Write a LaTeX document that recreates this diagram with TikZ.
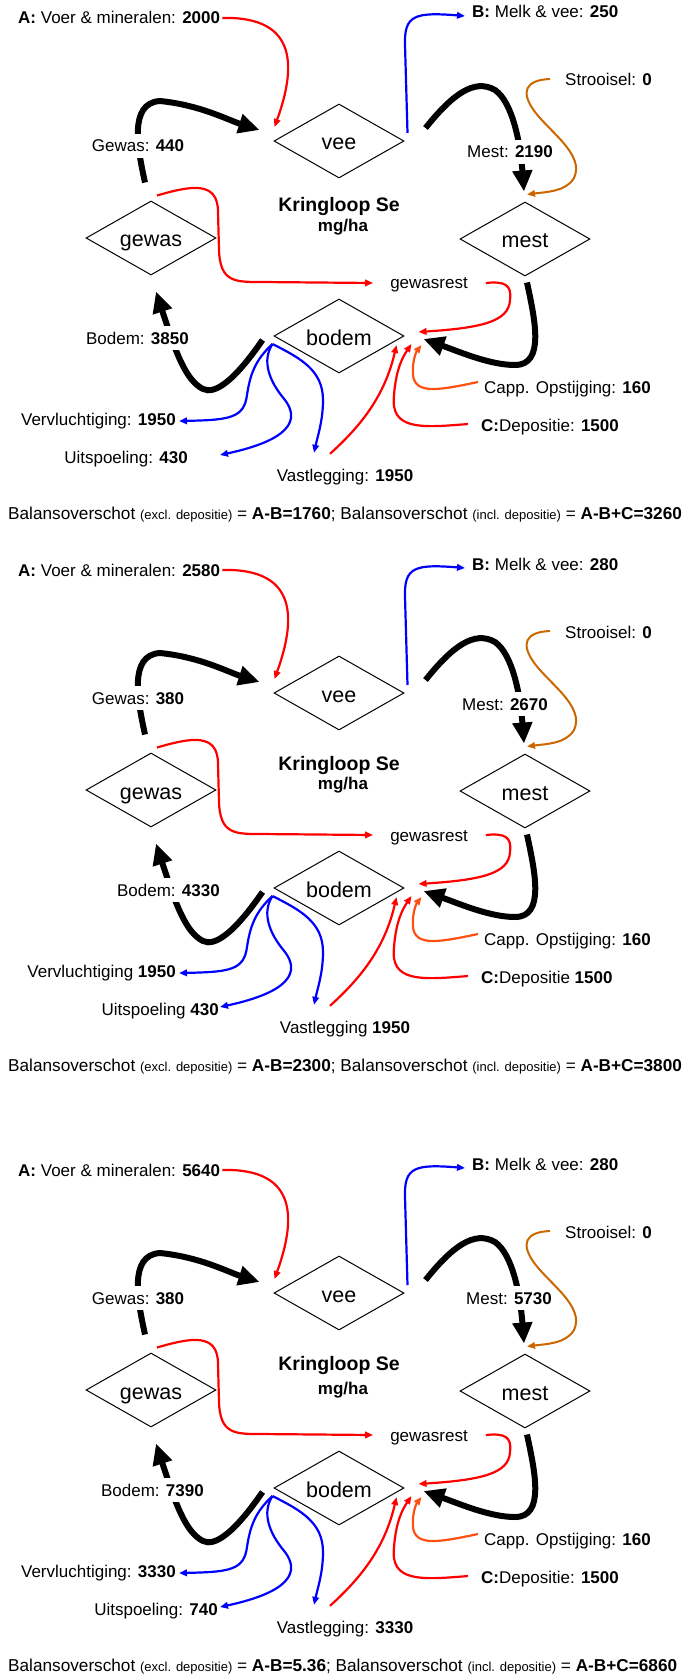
\documentclass[tikz,border=0pt]{standalone}
\usepackage{fontspec}
\setmainfont{Liberation Sans}
\usetikzlibrary{arrows.meta,shapes.geometric}

\definecolor{flowred}{RGB}{255,0,0}
\definecolor{flowblue}{RGB}{0,0,255}
\definecolor{litterorange}{RGB}{204,102,0}
\definecolor{capred}{RGB}{255,80,20}

\tikzset{
  pool/.style={draw, line width=1pt, shape=diamond, aspect=1.76,
    minimum width=130pt, minimum height=74pt, inner sep=0pt,
    font=\fontsize{21.5}{24}\selectfont, text height=18pt, text depth=0pt},
  lbl/.style={inner xsep=1pt, inner ysep=1pt, font=\fontsize{17}{20}\selectfont,
    text height=12pt, text depth=0pt},
  lblw/.style={lbl, fill=white, inner xsep=2pt, inner ysep=6pt},
  baltext/.style={lbl, font=\fontsize{17.2}{20}\selectfont},
  titletext/.style={inner sep=0pt, font=\bfseries\fontsize{19.5}{22}\selectfont},
  unittext/.style={inner sep=0pt, font=\bfseries\fontsize{17}{20}\selectfont},
  mainflow/.style={line width=6pt, -{Triangle[length=21pt,width=19pt]}},
  sideflow/.style={line width=2.2pt, -{Triangle[length=8pt,width=6.5pt]}},
}

% One selenium cycle: #1 = vertical offset, #2 = node-name prefix
\newcommand\drawcyclepanel[2]{%
\begin{scope}[shift={(0,#1)}]
  % pools
  \node[pool] (#2vee)   at (339,141) {vee};
  \node[pool] (#2gewas) at (151,238) {gewas};
  \node[pool] (#2mest)  at (525,239) {mest};
  \node[pool] (#2bodem) at (339,336) {bodem};
  % plain labels
  \node[lbl, anchor=west] (#2feed)   at (17,18)  {\txtA};
  \node[lbl, anchor=west] (#2milk)   at (471,12) {\txtB};
  \node[lbl, anchor=west] (#2litter) at (564,80) {Strooisel: \textbf{0}};
  \node[lbl] (#2rest) at (429,283) {gewasrest};
  \node[lbl, anchor=east] (#2volat) at (177,419) {\txtVerv};
  \node[lbl, anchor=east] (#2leach) at (\xUits,457) {\txtUits};
  \node[lbl] (#2fix) at (345,475) {\txtVast};
  \node[lbl, anchor=west] (#2capil) at (483,387) {Capp. Opstijging: \textbf{160}};
  \node[lbl, anchor=west] (#2depo)  at (480,425) {\txtDep};
  \node[titletext] (#2title) at (339,\yTitle) {Kringloop Se};
  \node[unittext]  (#2unit)  at (343,\yUnit)  {mg/ha};
  \node[baltext, anchor=west] (#2balance) at (7,513) {\txtBal};
  \coordinate (#2leachTip) at (220,455);
  % main black flows
  \draw[mainflow] ([shift={(-6,-18)}]#2gewas.north) .. controls (138,150) and (128,103) .. (160,101)
        .. controls (200,105) and (228,120) .. ([shift={(-14,-11)}]#2vee.west);
  \draw[mainflow] ([shift={(21,-13)}]#2vee.east) .. controls (452,95) and (474,78) .. (495,90)
        .. controls (512,102) and (520,140) .. ([shift={(-1,-10)}]#2mest.north);
  \draw[mainflow] ([shift={(2,6)}]#2mest.south) .. controls (535,320) and (545,365) .. (515,365)
        .. controls (490,365) and (460,352) .. ([shift={(19,3)}]#2bodem.east);
  \draw[mainflow] ([shift={(-11,4)}]#2bodem.west) .. controls (235,380) and (215,395) .. (203,389)
        .. controls (185,380) and (175,350) .. ([shift={(5,16)}]#2gewas.south);
  % inputs and outputs
  \draw[sideflow, flowred] ([xshift=1pt]#2feed.east) .. controls (300,16) and (295,70) .. ([shift={(1,-14)}]#2vee.west);
  \draw[sideflow, flowblue] ([shift={(3,-8)}]#2vee.east) -- (405,45) .. controls (404,15) and (415,12) .. ([shift={(-6,4)}]#2milk.west);
  \draw[sideflow, litterorange, line width=2pt] ([shift={(-14,-1)}]#2litter.west) .. controls (525,80) and (520,92) .. (535,112)
        .. controls (550,132) and (585,155) .. (574,178) .. controls (566,192) and (545,192) .. ([shift={(2,-7)}]#2mest.north);
  \draw[sideflow, flowred] ([shift={(6,-5)}]#2gewas.north) .. controls (190,186) and (218,180) .. (218,212) -- (219,250)
        .. controls (220,282) and (235,282) .. (260,282) -- ([xshift=-16pt]#2rest.west);
  \draw[sideflow, flowred] ([xshift=17pt]#2rest.east) .. controls (505,281) and (512,285) .. (510,300)
        .. controls (509,322) and (480,328) .. ([shift={(14,-4)}]#2bodem.east);
  \draw[sideflow, flowblue] ([shift={(-1,8)}]#2bodem.west) .. controls (255,360) and (250,375) .. (247,395)
        .. controls (244,418) and (230,420) .. ([shift={(2,2)}]#2volat.east);
  \draw[sideflow, flowblue] ([shift={(-1,8)}]#2bodem.west) .. controls (262,360) and (268,380) .. (285,400)
        .. controls (300,420) and (290,440) .. (#2leachTip);
  \draw[sideflow, flowblue] ([shift={(-1,8)}]#2bodem.west) .. controls (300,358) and (323,370) .. (323,400)
        .. controls (323,420) and (318,435) .. ([shift={(-31,-15)}]#2fix.north);
  \draw[sideflow, flowred] ([shift={(-15,-14)}]#2fix.north) .. controls (362,425) and (385,395) .. ([shift={(-8,9)}]#2bodem.east);
  \draw[sideflow, flowred] ([shift={(-12,-1)}]#2depo.west) .. controls (420,428) and (390,430) .. (394,395)
        .. controls (396,370) and (402,358) .. ([shift={(7,8)}]#2bodem.east);
  \draw[sideflow, capred] ([shift={(-5,-5)}]#2capil.west) .. controls (440,390) and (415,395) .. (413,375)
        .. controls (412,362) and (416,352) .. ([shift={(17,9)}]#2bodem.east);
  % flow labels on white, over the black flows
  \node[lblw] (#2cropflow) at (138,146) {\txtGewas};
  \node[lblw] (#2manureflow) at (\xMest,\yMest) {\txtMest};
  \node[lblw, anchor=east] (#2soilflow) at (\xBodem,338) {\txtBodem};
\end{scope}}

\newcommand\smallnote[1]{{\fontsize{13}{15}\selectfont #1}}

\begin{document}
\begin{tikzpicture}[x=1pt, y=-1pt]
  \fill[white] (0,0) rectangle (683,1677);
  \useasboundingbox (0,0) rectangle (683,1677);

  % first cycle
  \def\txtA{\textbf{A:} Voer \& mineralen: \textbf{2000}}
  \def\txtB{\textbf{B:} Melk \& vee: \textbf{250}}
  \def\txtGewas{Gewas: \textbf{440}}
  \def\txtMest{Mest: \textbf{2190}}
  \def\txtBodem{Bodem: \textbf{3850}}
  \def\txtVerv{Vervluchtiging: \textbf{1950}}
  \def\txtUits{Uitspoeling: \textbf{430}}
  \def\txtVast{Vastlegging: \textbf{1950}}
  \def\txtDep{\textbf{C:}Depositie: \textbf{1500}}
  \def\txtBal{Balansoverschot \smallnote{(excl. depositie)} = \textbf{A-B=1760}; Balansoverschot \smallnote{(incl. depositie)} = \textbf{A-B+C=3260}}
  \def\xMest{510}\def\yMest{152}\def\yTitle{207}\def\yUnit{227}\def\xBodem{191}\def\xUits{189}
  \drawcyclepanel{0}{a}

  % second cycle
  \def\txtA{\textbf{A:} Voer \& mineralen: \textbf{2580}}
  \def\txtB{\textbf{B:} Melk \& vee: \textbf{280}}
  \def\txtGewas{Gewas: \textbf{380}}
  \def\txtMest{Mest: \textbf{2670}}
  \def\txtBodem{Bodem: \textbf{4330}}
  \def\txtVerv{Vervluchtiging \textbf{1950}}
  \def\txtUits{Uitspoeling \textbf{430}}
  \def\txtVast{Vastlegging \textbf{1950}}
  \def\txtDep{\textbf{C:}Depositie \textbf{1500}}
  \def\txtBal{Balansoverschot \smallnote{(excl. depositie)} = \textbf{A-B=2300}; Balansoverschot \smallnote{(incl. depositie)} = \textbf{A-B+C=3800}}
  \def\xMest{505}\def\yMest{152}\def\yTitle{213}\def\yUnit{233}\def\xBodem{222}\def\xUits{220}
  \drawcyclepanel{552}{b}

  % third cycle
  \def\txtA{\textbf{A:} Voer \& mineralen: \textbf{5640}}
  \def\txtB{\textbf{B:} Melk \& vee: \textbf{280}}
  \def\txtGewas{Gewas: \textbf{380}}
  \def\txtMest{Mest: \textbf{5730}}
  \def\txtBodem{Bodem: \textbf{7390}}
  \def\txtVerv{Vervluchtiging: \textbf{3330}}
  \def\txtUits{Uitspoeling: \textbf{740}}
  \def\txtVast{Vastlegging: \textbf{3330}}
  \def\txtDep{\textbf{C:}Depositie: \textbf{1500}}
  \def\txtBal{Balansoverschot \smallnote{(excl. depositie)} = \textbf{A-B=5.36}; Balansoverschot \smallnote{(incl. depositie)} = \textbf{A-B+C=6860}}
  \def\xMest{509}\def\yMest{146}\def\yTitle{213}\def\yUnit{238}\def\xBodem{206}\def\xUits{219}
  \drawcyclepanel{1152}{c}
\end{tikzpicture}
\end{document}
